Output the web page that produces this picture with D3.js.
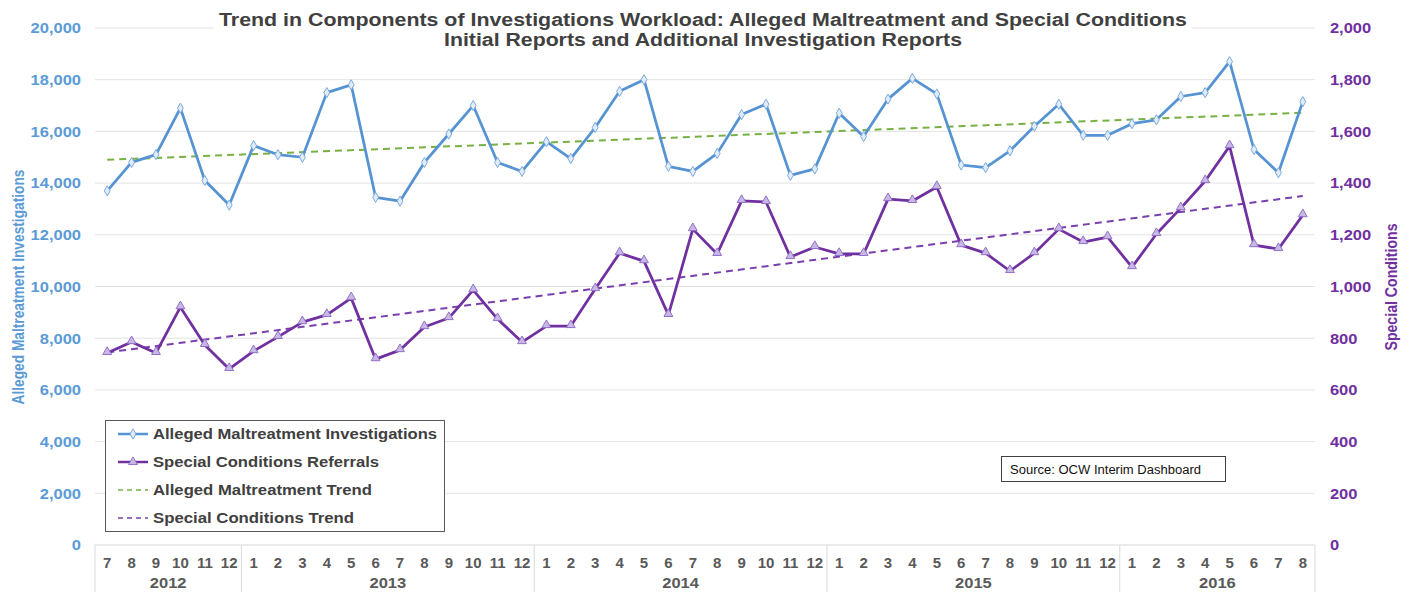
<!DOCTYPE html>
<html>
<head>
<meta charset="utf-8">
<script src="https://cdn.jsdelivr.net/npm/d3@7"></script>
<style>
  html, body { margin: 0; padding: 0; background: #fff; }
  svg { display: block; }
  text { font-family: "Liberation Sans", Arial, sans-serif; }
</style>
</head>
<body>
<svg id="chart" width="1413" height="592"></svg>
<script>
// ---------------- DATA ----------------
const categories = [
  "2012-7","2012-8","2012-9","2012-10","2012-11","2012-12",
  "2013-1","2013-2","2013-3","2013-4","2013-5","2013-6","2013-7","2013-8","2013-9","2013-10","2013-11","2013-12",
  "2014-1","2014-2","2014-3","2014-4","2014-5","2014-6","2014-7","2014-8","2014-9","2014-10","2014-11","2014-12",
  "2015-1","2015-2","2015-3","2015-4","2015-5","2015-6","2015-7","2015-8","2015-9","2015-10","2015-11","2015-12",
  "2016-1","2016-2","2016-3","2016-4","2016-5","2016-6","2016-7","2016-8"
];
const years = ["2012", "2013", "2014", "2015", "2016"];

const maltreatment = [
  13700, 14800, 15100, 16900, 14100, 13150,
  15450, 15100, 15000, 17500, 17800, 13450, 13300, 14800, 15900, 17000, 14800, 14450,
  15600, 14950, 16150, 17550, 18000, 14650, 14450, 15150, 16650, 17050, 14300, 14550,
  16700, 15800, 17250, 18050, 17450, 14700, 14600, 15250, 16200, 17050, 15850, 15850,
  16300, 16450, 17350, 17500, 18700, 15300, 14400, 17150
];
const specialConditions = [
  743, 785, 743, 920, 774, 681,
  750, 805, 862, 890, 955, 719, 754, 843, 878, 986, 874, 785,
  847, 847, 990, 1129, 1098, 890, 1222, 1126, 1331, 1327, 1114, 1153,
  1126, 1126, 1338, 1331, 1385, 1160, 1129, 1060, 1129, 1222, 1172, 1191,
  1075, 1203, 1303, 1408, 1543, 1160, 1145, 1276
];
// trendline endpoints (first and last month)
const maltreatmentTrend = [14900, 16720];
const specialTrend = [745, 1350];

const leftTicks = [0, 2000, 4000, 6000, 8000, 10000, 12000, 14000, 16000, 18000, 20000];
const rightTicks = [0, 200, 400, 600, 800, 1000, 1200, 1400, 1600, 1800, 2000];

const titleLines = [
  "Trend in Components of Investigations Workload: Alleged Maltreatment and Special Conditions",
  "Initial Reports and Additional Investigation Reports"
];
const leftAxisTitle = "Alleged Maltreatment Investigations";
const rightAxisTitle = "Special Conditions";
const legendLabels = [
  "Alleged Maltreatment Investigations",
  "Special Conditions Referrals",
  "Alleged Maltreatment Trend",
  "Special Conditions Trend"
];
const sourceText = "Source: OCW Interim Dashboard";

// ---------------- LAYOUT ----------------
const plot = { left: 95, right: 1315, top: 28, bottom: 545 };
const BLUE = "#5593d2", PURPLE = "#7030a0", GREEN = "#77b043", PURPLE_TR = "#7a3fae";
const svg = d3.select("#chart");

const x = d3.scaleBand().domain(categories).range([plot.left, plot.right]).padding(0);
const cx = d => x(d) + x.bandwidth() / 2;
const yL = d3.scaleLinear().domain([0, 20000]).range([plot.bottom, plot.top]);
const yR = d3.scaleLinear().domain([0, 2000]).range([plot.bottom, plot.top]);
const fmt = d3.format(",");

// gridlines
svg.append("g").selectAll("line").data(leftTicks.filter(t => t > 0)).join("line")
  .attr("x1", plot.left).attr("x2", plot.right)
  .attr("y1", d => yL(d)).attr("y2", d => yL(d))
  .attr("stroke", "#e3e3e3").attr("stroke-width", 1);

// left axis
const gL = svg.append("g").attr("transform", `translate(${plot.left},0)`)
  .call(d3.axisLeft(yL).tickValues(leftTicks).tickFormat(fmt).tickSize(0).tickPadding(12.7));
gL.select(".domain").remove();
gL.selectAll("text").attr("fill", "#5b9bd5").style("font-size", "15px").style("font-weight", "bold")
  .attr("transform", "scale(1.1,1)");

// right axis
const gR = svg.append("g").attr("transform", `translate(${plot.right},0)`)
  .call(d3.axisRight(yR).tickValues(rightTicks).tickFormat(fmt).tickSize(0).tickPadding(13.6));
gR.select(".domain").remove();
gR.selectAll("text").attr("fill", PURPLE).style("font-size", "15px").style("font-weight", "bold")
  .attr("transform", "scale(1.1,1)");

// x axis (months)
const gX = svg.append("g").attr("transform", `translate(0,${plot.bottom})`)
  .call(d3.axisBottom(x).tickFormat(d => d.split("-")[1]).tickSize(0).tickPadding(12));
gX.select(".domain").remove();
gX.selectAll("text").attr("fill", "#595959").style("font-size", "15px").style("font-weight", "bold");

svg.append("line").attr("x1", plot.left).attr("x2", plot.right)
  .attr("y1", plot.bottom).attr("y2", plot.bottom).attr("stroke", "#d9d9d9");

// year groups
const yearGroups = years.map(yr => {
  const cats = categories.filter(c => c.startsWith(yr + "-"));
  return { year: yr, x0: x(cats[0]), x1: x(cats[cats.length - 1]) + x.bandwidth() };
});
const seps = [plot.left].concat(yearGroups.map(g => g.x1));
svg.append("g").selectAll("line").data(seps).join("line")
  .attr("x1", d => d).attr("x2", d => d).attr("y1", plot.bottom).attr("y2", 592)
  .attr("stroke", "#d9d9d9");
svg.append("g").selectAll("text").data(yearGroups).join("text")
  .attr("x", d => (d.x0 + d.x1) / 2).attr("y", 588)
  .attr("text-anchor", "middle").attr("fill", "#595959")
  .style("font-size", "15px").style("font-weight", "bold")
  .attr("transform", d => { const m = (d.x0 + d.x1) / 2; return `translate(${m},0) scale(1.1,1) translate(${-m},0)`; })
  .text(d => d.year);

// trend lines
const first = categories[0], last = categories[categories.length - 1];
svg.append("line")
  .attr("x1", cx(first)).attr("x2", cx(last))
  .attr("y1", yL(maltreatmentTrend[0])).attr("y2", yL(maltreatmentTrend[1]))
  .attr("stroke", GREEN).attr("stroke-width", 2).attr("stroke-dasharray", "7,5");
svg.append("line")
  .attr("x1", cx(first)).attr("x2", cx(last))
  .attr("y1", yR(specialTrend[0])).attr("y2", yR(specialTrend[1]))
  .attr("stroke", PURPLE_TR).attr("stroke-width", 2).attr("stroke-dasharray", "7,5");

// series lines
const lineL = d3.line().x((d, i) => cx(categories[i])).y(d => yL(d));
const lineR = d3.line().x((d, i) => cx(categories[i])).y(d => yR(d));
svg.append("path").datum(maltreatment).attr("d", lineL)
  .attr("fill", "none").attr("stroke", BLUE).attr("stroke-width", 2.75).attr("stroke-linejoin", "round");
svg.append("path").datum(specialConditions).attr("d", lineR)
  .attr("fill", "none").attr("stroke", PURPLE).attr("stroke-width", 2.75).attr("stroke-linejoin", "round");

// markers
const diamond = d3.symbol().type(d3.symbolDiamond).size(30);
const triangle = d3.symbol().type(d3.symbolTriangle).size(34);
svg.append("g").selectAll("path").data(maltreatment).join("path")
  .attr("d", diamond)
  .attr("transform", (d, i) => `translate(${cx(categories[i])},${yL(d)})`)
  .attr("fill", "#e2ecf8").attr("stroke", "#7aaae0").attr("stroke-width", 1);
svg.append("g").selectAll("path").data(specialConditions).join("path")
  .attr("d", triangle)
  .attr("transform", (d, i) => `translate(${cx(categories[i])},${yR(d) - 1})`)
  .attr("fill", "#c7b8e6").attr("stroke", "#9370c8").attr("stroke-width", 1);

// title
svg.append("rect").attr("x", 214).attr("y", 8).attr("width", 978).attr("height", 44).attr("fill", "#fff");
const tW = [968, 518], tY = [26, 46];
titleLines.forEach((t, i) => {
  svg.append("text").attr("x", 703).attr("y", tY[i]).attr("text-anchor", "middle")
    .attr("fill", "#404040").style("font-size", "18px").style("font-weight", "bold")
    .attr("textLength", tW[i]).attr("lengthAdjust", "spacingAndGlyphs")
    .text(t);
});

// axis titles
svg.append("text").attr("transform", "translate(24,287) rotate(-90)")
  .attr("text-anchor", "middle").attr("fill", "#5b9bd5")
  .style("font-size", "16.5px").style("font-weight", "bold")
  .attr("textLength", 235).attr("lengthAdjust", "spacingAndGlyphs")
  .text(leftAxisTitle);
svg.append("text").attr("transform", "translate(1397,287) rotate(-90)")
  .attr("text-anchor", "middle").attr("fill", PURPLE)
  .style("font-size", "16.5px").style("font-weight", "bold")
  .attr("textLength", 127).attr("lengthAdjust", "spacingAndGlyphs")
  .text(rightAxisTitle);

// legend
const lg = svg.append("g");
lg.append("rect").attr("x", 105.5).attr("y", 420.5).attr("width", 339).attr("height", 111)
  .attr("fill", "#fff").attr("stroke", "#595959").attr("stroke-width", 1);
const legendStyles = [
  { color: BLUE, dash: null, marker: diamond, mfill: "#e2ecf8", mstroke: "#7aaae0", w: 2.5 },
  { color: PURPLE, dash: null, marker: triangle, mfill: "#c7b8e6", mstroke: "#9370c8", w: 2.5 },
  { color: GREEN, dash: "5,4", marker: null, w: 1.5 },
  { color: PURPLE_TR, dash: "5,4", marker: null, w: 1.5 }
];
const legendWidths = [284, 226, 219, 201];
legendLabels.forEach((lab, i) => {
  const yy = 434 + i * 28;
  const s = legendStyles[i];
  lg.append("line").attr("x1", 118).attr("x2", 148).attr("y1", yy).attr("y2", yy)
    .attr("stroke", s.color).attr("stroke-width", s.w).attr("stroke-dasharray", s.dash);
  if (s.marker) {
    lg.append("path").attr("d", s.marker).attr("transform", `translate(133,${yy})`)
      .attr("fill", s.mfill).attr("stroke", s.mstroke);
  }
  lg.append("text").attr("x", 153).attr("y", yy + 5).attr("fill", "#404040")
    .style("font-size", "14.5px").style("font-weight", "bold")
    .attr("textLength", legendWidths[i]).attr("lengthAdjust", "spacingAndGlyphs")
    .text(lab);
});

// source box
svg.append("rect").attr("x", 1001.5).attr("y", 456.5).attr("width", 224).attr("height", 25)
  .attr("fill", "#fff").attr("stroke", "#404040").attr("stroke-width", 1);
svg.append("text").attr("x", 1010).attr("y", 473.5).attr("fill", "#111")
  .style("font-size", "12.5px")
  .attr("textLength", 191).attr("lengthAdjust", "spacingAndGlyphs")
  .text(sourceText);
</script>
</body>
</html>
